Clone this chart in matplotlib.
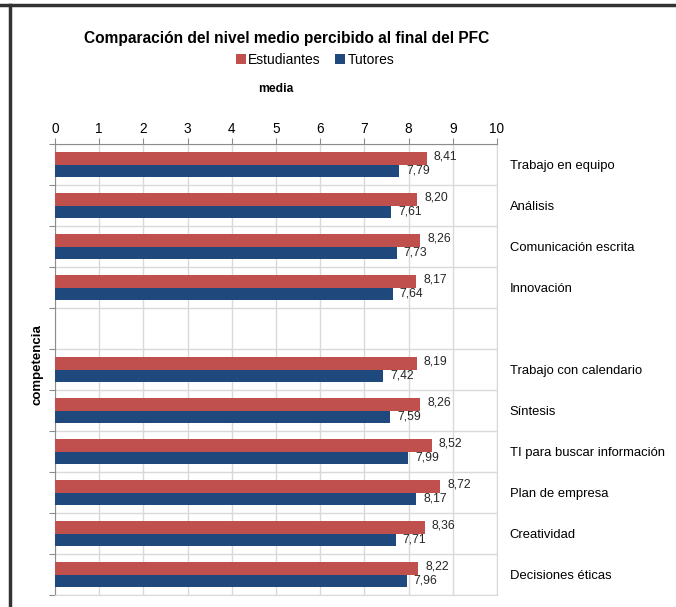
import numpy as np
import matplotlib
matplotlib.use("Agg")
import matplotlib.pyplot as plt
from matplotlib.ticker import FixedLocator
from matplotlib.lines import Line2D

plt.rcParams['font.family'] = ['Liberation Sans', 'DejaVu Sans']

competencias = ["Trabajo en equipo", "Análisis", "Comunicación escrita", "Innovación", "",
                "Trabajo con calendario", "Síntesis", "TI para buscar información",
                "Plan de empresa", "Creatividad", "Decisiones éticas"]
estudiantes = [8.41, 8.20, 8.26, 8.17, np.nan, 8.19, 8.26, 8.52, 8.72, 8.36, 8.22]
tutores = [7.79, 7.61, 7.73, 7.64, np.nan, 7.42, 7.59, 7.99, 8.17, 7.71, 7.96]
x_ticks = list(range(0, 11))

RED = "#C0504D"
BLUE = "#1F497D"
GRID = "#D9D9D9"
SPINE = "#8C8C8C"

fig = plt.figure(figsize=(6.76, 6.07), dpi=100)
ax = fig.add_axes([55 / 676, 1 - 595 / 607, 442 / 676, 451 / 607])

n = len(competencias)
pos = np.arange(n)
h = 0.3
ax.barh(pos - h / 2, estudiantes, height=h, color=RED, label="Estudiantes", zorder=3)
ax.barh(pos + h / 2, tutores, height=h, color=BLUE, label="Tutores", zorder=3)

def fmt(v):
    return f"{v:.2f}".replace(".", ",")

for y, v in zip(pos - h / 2, estudiantes):
    if not np.isnan(v):
        ax.annotate(fmt(v), (v, y), xytext=(5, 1), textcoords="offset points",
                    va="center", ha="left", fontsize=8.7, color="#262626", zorder=4)
for y, v in zip(pos + h / 2, tutores):
    if not np.isnan(v):
        ax.annotate(fmt(v), (v, y), xytext=(5, 0), textcoords="offset points",
                    va="center", ha="left", fontsize=8.7, color="#262626", zorder=4)

ax.set_xlim(0, 10)
ax.set_ylim(n - 0.5, -0.5)

# x axis on top
ax.xaxis.tick_top()
ax.xaxis.set_label_position("top")
ax.set_xticks(x_ticks)
ax.tick_params(axis="x", which="major", direction="out", length=4, color=SPINE,
               labelsize=9.8, pad=1.5)
ax.set_xlabel("media", fontsize=8.7, fontweight="bold", labelpad=22)

# category boundaries as major y ticks (grid + tick marks), names as minor labels on the right
ax.yaxis.set_major_locator(FixedLocator(np.arange(-0.5, n, 1.0)))
ax.yaxis.set_minor_locator(FixedLocator(pos))
ax.yaxis.set_minor_formatter(plt.FixedFormatter(competencias))
ax.tick_params(axis="y", which="major", left=True, right=False, labelleft=False,
               labelright=False, direction="out", length=4, color=SPINE)
ax.tick_params(axis="y", which="minor", left=False, right=False, labelleft=False,
               labelright=True, length=0, pad=9, labelsize=9.4)

ax.grid(True, which="major", color=GRID, linewidth=1, zorder=0)
ax.set_axisbelow(True)
for s in ax.spines.values():
    s.set_color(GRID)
ax.spines["left"].set_color(SPINE)
ax.spines["top"].set_color(SPINE)

fig.text(287 / 676, 1 - 38 / 607, "Comparación del nivel medio percibido al final del PFC",
         ha="center", va="center", fontsize=11.2, fontweight="bold")
fig.legend(loc="center", bbox_to_anchor=(315 / 676, 1 - 60 / 607), ncol=2, frameon=False,
           fontsize=10, handlelength=0.7, handleheight=0.7, handletextpad=0.2,
           columnspacing=1.0)
fig.text(37 / 676, 1 - 365 / 607, "competencia", rotation=90, ha="center", va="center",
         fontsize=9.5, fontweight="bold")

# frame lines at top and left edge
fig.add_artist(Line2D([0, 1], [1 - 5 / 607, 1 - 5 / 607], color="#333333", linewidth=2.5,
                      transform=fig.transFigure))
fig.add_artist(Line2D([10 / 676, 10 / 676], [0, 1 - 5 / 607], color="#333333", linewidth=2.5,
                      transform=fig.transFigure))

fig.savefig("out.png", dpi=100)
